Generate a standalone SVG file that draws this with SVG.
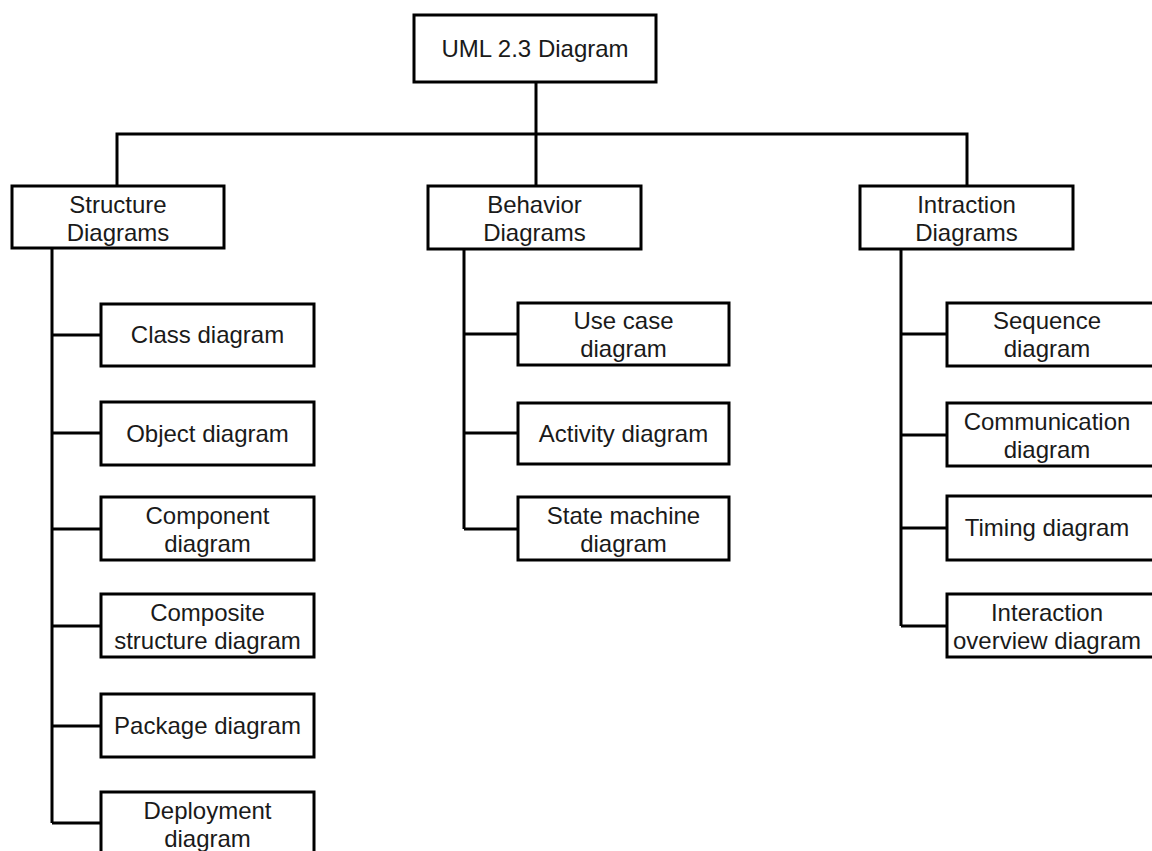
<svg xmlns="http://www.w3.org/2000/svg" width="1152" height="851" viewBox="0 0 1152 851">
<style>
.box{fill:#fff;stroke:#000;stroke-width:3}
.ln{fill:none;stroke:#000;stroke-width:3;stroke-linejoin:miter}
text{font-family:"Liberation Sans",Arial,sans-serif;font-size:24px;fill:#1a1a1a;text-anchor:middle}
</style>
<rect width="1152" height="851" fill="#fff"/>
<g id="connectors">
<path class="ln" d="M536 82V186"/>
<path class="ln" d="M117 186V134H967V186"/>
<path class="ln" d="M52 248V823"/>
<path class="ln" d="M52 335H101M52 433H101M52 529H101M52 626H101M52 726H101M52 823H101"/>
<path class="ln" d="M464 249V529"/>
<path class="ln" d="M464 334H518M464 433H518M464 529H518"/>
<path class="ln" d="M901 249V626"/>
<path class="ln" d="M901 334H947M901 435H947M901 528H947M901 626H947"/>
</g>
<g id="root"><rect class="box" x="414" y="15" width="242" height="67"/><text x="535" y="57">UML 2.3 Diagram</text></g>
<g id="structure"><rect class="box" x="12" y="186" width="212" height="62"/><text x="118" y="213">Structure</text><text x="118" y="241">Diagrams</text></g>
<g id="behavior"><rect class="box" x="428" y="186" width="213" height="63"/><text x="534.5" y="213">Behavior</text><text x="534.5" y="241">Diagrams</text></g>
<g id="interaction"><rect class="box" x="860" y="186" width="213" height="63"/><text x="966.5" y="213">Intraction</text><text x="966.5" y="241">Diagrams</text></g>
<g id="class"><rect class="box" x="101" y="304" width="213" height="62"/><text x="207.5" y="343">Class diagram</text></g>
<g id="object"><rect class="box" x="101" y="402" width="213" height="63"/><text x="207.5" y="442">Object diagram</text></g>
<g id="component"><rect class="box" x="101" y="497" width="213" height="63"/><text x="207.5" y="524">Component</text><text x="207.5" y="552">diagram</text></g>
<g id="composite"><rect class="box" x="101" y="594" width="213" height="63"/><text x="207.5" y="621">Composite</text><text x="207.5" y="649">structure diagram</text></g>
<g id="package"><rect class="box" x="101" y="694" width="213" height="63"/><text x="207.5" y="734">Package diagram</text></g>
<g id="deployment"><rect class="box" x="101" y="792" width="213" height="63"/><text x="207.5" y="819">Deployment</text><text x="207.5" y="847">diagram</text></g>
<g id="usecase"><rect class="box" x="518" y="303" width="211" height="62"/><text x="623.5" y="329">Use case</text><text x="623.5" y="357">diagram</text></g>
<g id="activity"><rect class="box" x="518" y="403" width="211" height="61"/><text x="623.5" y="442">Activity diagram</text></g>
<g id="statemachine"><rect class="box" x="518" y="497" width="211" height="63"/><text x="623.5" y="524">State machine</text><text x="623.5" y="552">diagram</text></g>
<g id="sequence"><rect class="box" x="947" y="303" width="213" height="63"/><text x="1047" y="329">Sequence</text><text x="1047" y="357">diagram</text></g>
<g id="communication"><rect class="box" x="947" y="403" width="213" height="63"/><text x="1047" y="430">Communication</text><text x="1047" y="458">diagram</text></g>
<g id="timing"><rect class="box" x="947" y="496" width="213" height="64"/><text x="1047" y="536">Timing diagram</text></g>
<g id="overview"><rect class="box" x="947" y="594" width="213" height="63"/><text x="1047" y="621">Interaction</text><text x="1047" y="649">overview diagram</text></g>
</svg>
